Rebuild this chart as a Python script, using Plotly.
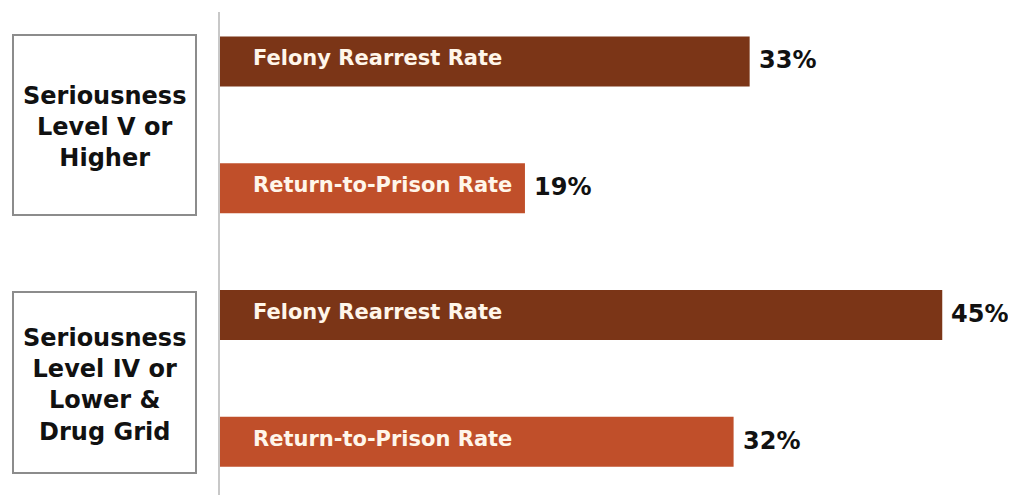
import plotly.graph_objects as go

# ---- data ----
bar_ids = ["V_felony", "V_return", "IV_felony", "IV_return"]
bar_labels = ["Felony Rearrest Rate", "Return-to-Prison Rate",
              "Felony Rearrest Rate", "Return-to-Prison Rate"]
values = [33, 19, 45, 32]
value_labels = ["33%", "19%", "45%", "32%"]
group_labels = ["Seriousness<br>Level V or<br>Higher",
                "Seriousness<br>Level IV or<br>Lower &<br>Drug Grid"]

DARK = "#7B3517"
LIGHT = "#C04F2A"
colors = [DARK, LIGHT, DARK, LIGHT]

# page body has an 8px margin; build the figure to fit inside it
OFF = 8
W, H = 1016 - OFF, 495 - OFF
ML, MR, MT, MB = 220 - OFF, 8, 12 - OFF, 0
PW, PH = W - ML - MR, H - MT - MB


def px_x(px):
    return (px - OFF - ML) / PW


def px_y(py):
    return (H - MB - (py - OFF)) / PH


fig = go.Figure()
fig.add_trace(go.Bar(
    y=bar_ids, x=values, orientation="h",
    marker=dict(color=colors, line=dict(width=0)),
    width=0.394, hoverinfo="skip",
))

font_family = "DejaVu Sans, Arial, sans-serif"
annotations = []
for bid, lab, v, vl in zip(bar_ids, bar_labels, values, value_labels):
    annotations.append(dict(
        x=0, y=bid, xref="x", yref="y", text="<b>" + lab + "</b>",
        showarrow=False, xanchor="left", yanchor="middle", xshift=31, yshift=3,
        font=dict(family=font_family, size=21, color="#FFF6EA"),
    ))
    annotations.append(dict(
        x=v, y=bid, xref="x", yref="y", text="<b>" + vl + "</b>",
        showarrow=False, xanchor="left", yanchor="middle", xshift=7, yshift=1,
        font=dict(family=font_family, size=24, color="#111111"),
    ))

boxes = [(13, 35, 196, 215), (13, 292, 196, 473)]
shapes = []
for (x0, y0, x1, y1), gl in zip(boxes, group_labels):
    shapes.append(dict(
        type="rect", xref="paper", yref="paper",
        x0=px_x(x0), x1=px_x(x1), y0=px_y(y1), y1=px_y(y0),
        line=dict(color="#8C8C8C", width=2), fillcolor="white", layer="below",
    ))
    annotations.append(dict(
        x=px_x((x0 + x1) / 2), y=px_y((y0 + y1) / 2 + 2), xref="paper", yref="paper",
        text="<b>" + gl + "</b>", showarrow=False, xanchor="center", yanchor="middle",
        align="center", font=dict(family=font_family, size=24, color="#111111"),
    ))

fig.update_layout(
    width=W, height=H,
    margin=dict(l=ML, r=MR, t=MT, b=MB),
    paper_bgcolor="white", plot_bgcolor="white",
    showlegend=False,
    xaxis=dict(range=[0, PW / 16.05], visible=False, fixedrange=True),
    yaxis=dict(range=[3.42, -0.39], showticklabels=False, ticks="",
               showgrid=False, zeroline=False,
               showline=True, linecolor="#C8C8C8", linewidth=1.5,
               fixedrange=True),
    annotations=annotations,
    shapes=shapes,
)

fig.write_html("out.html")
